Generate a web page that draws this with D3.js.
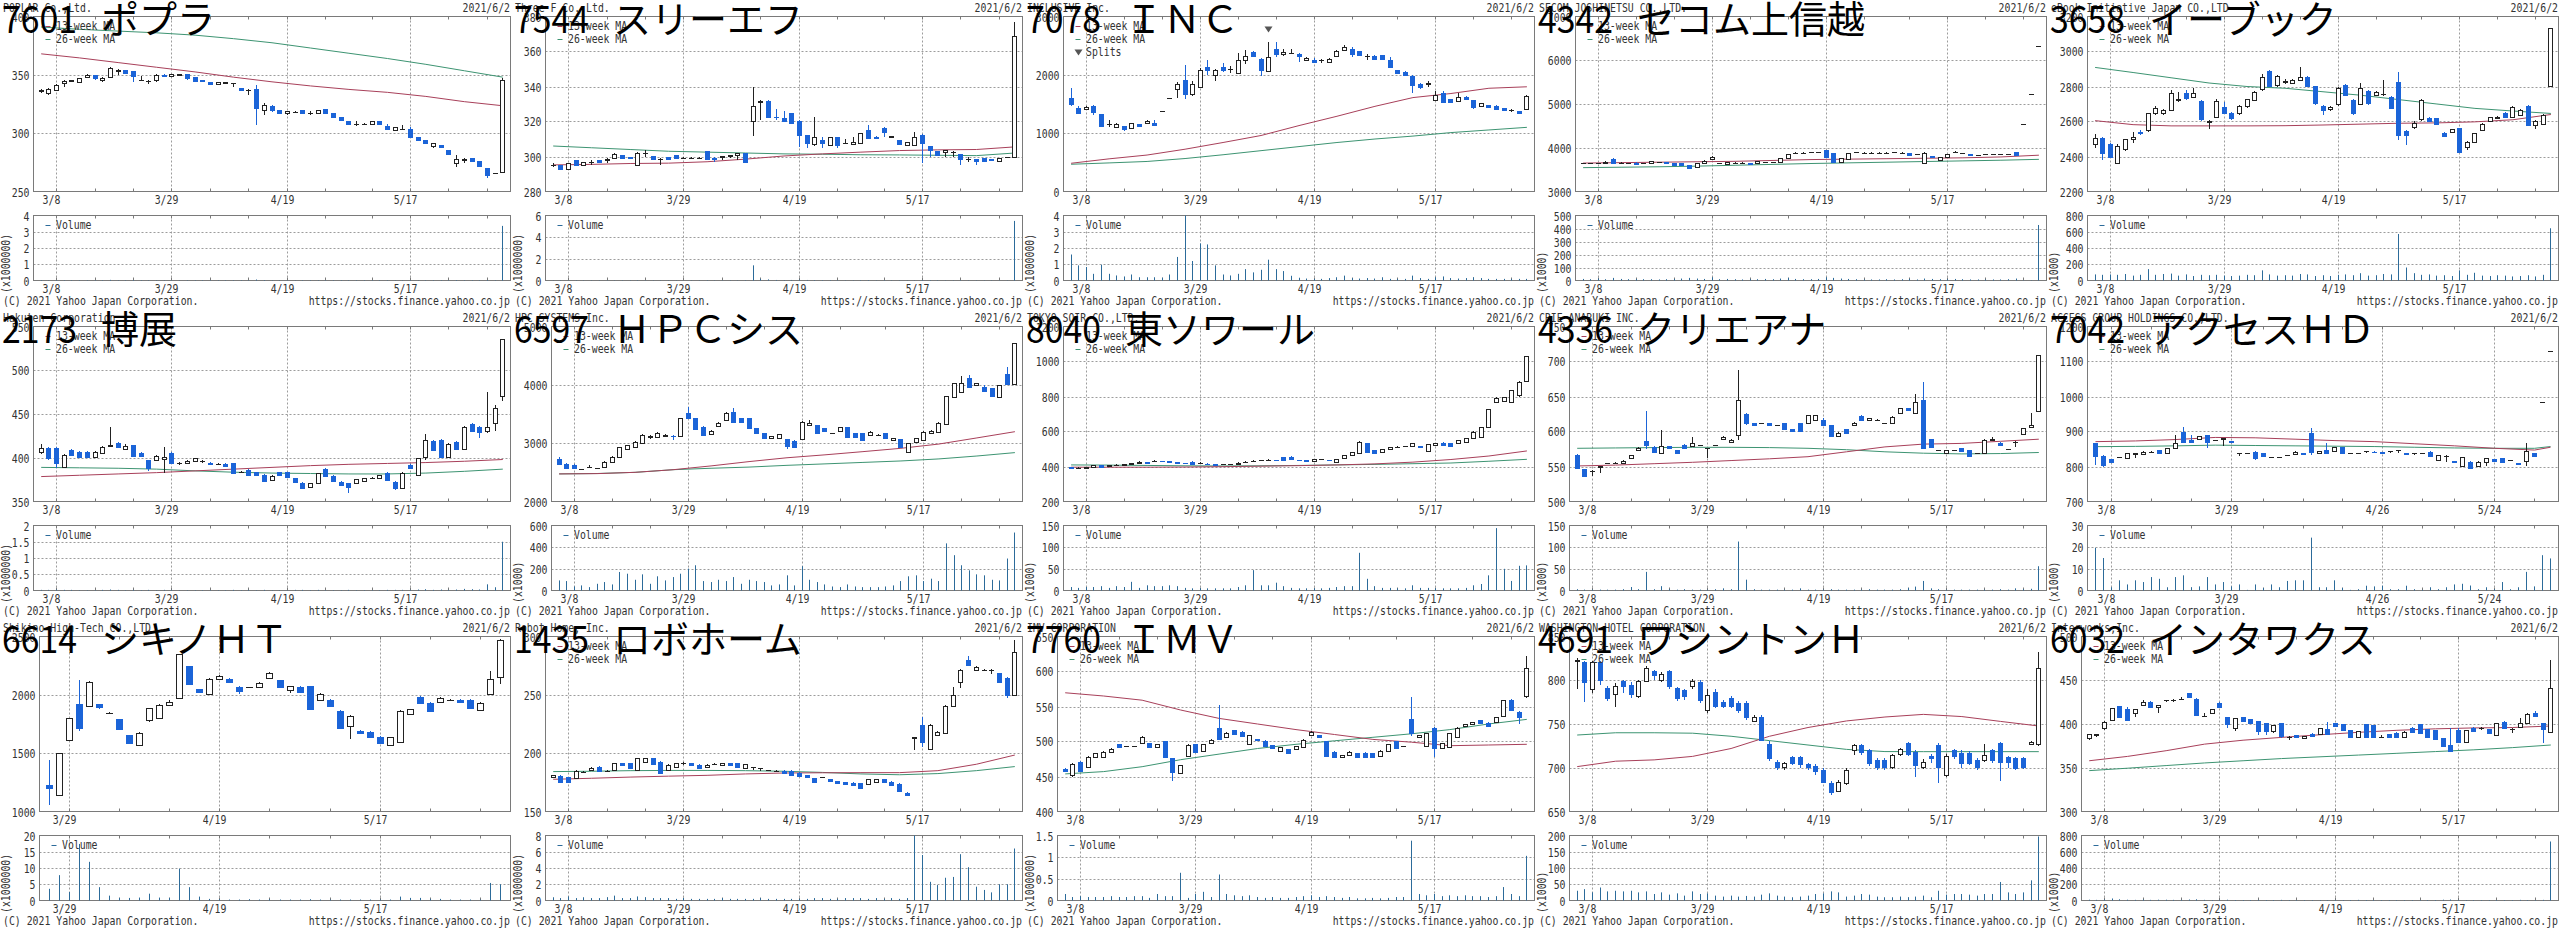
<!DOCTYPE html>
<html><head><meta charset="utf-8">
<script src="https://cdn.jsdelivr.net/npm/d3@7"></script>
<style>body{margin:0;background:#fff}</style>
</head><body><svg id="c" width="2560" height="930"></svg>
<script>
// ---------- shared calendar ----------
const DAYS = ["3/4","3/5","3/8","3/9","3/10","3/11","3/12","3/15","3/16","3/17","3/18","3/19","3/22","3/23","3/24","3/25","3/26","3/29","3/30","3/31","4/1","4/2","4/5","4/6","4/7","4/8","4/9","4/12","4/13","4/14","4/15","4/16","4/19","4/20","4/21","4/22","4/23","4/26","4/27","4/28","4/30","5/6","5/7","5/10","5/11","5/12","5/13","5/14","5/17","5/18","5/19","5/20","5/21","5/24","5/25","5/26","5/27","5/28","5/31","6/1","6/2"];
const DAYS_6614 = DAYS.slice(DAYS.indexOf("3/25"));
const DAYS_7042 = DAYS.filter(d => !["4/1","5/7","5/12"].includes(d));
const LABELS_STD = ["3/8","3/29","4/19","5/17"];
const LABELS_6614 = ["3/29","4/19","5/17"];
const LABELS_7042 = ["3/8","3/29","4/26","5/24"];
const MA_IDX = [0,5,10,15,20,25,30,35,40,45,50,55,60];
const MA_IDX_7042 = [0,5,10,15,20,25,30,35,40,45,50,55,57];

// ---------- data: [open, high, low, close] ----------
const ohlc7601 = [[336,338,334,337],[334,339,333,338],[337,342,336,341],[343,346,340,345],[345,346,344,346],[344,347,343,347],[348,351,347,350],[350,350,346,347],[346,348,344,347],[348,357,348,356],[353,355,350,354],[354,354,351,352],[353,353,344,349],[346,349,345,346],[345,346,342,345],[346,351,344,350],[350,351,348,349],[349,351,348,351],[350,351,349,351],[351,351,346,347],[348,348,345,345],[346,346,345,345],[344,344,342,342],[342,344,341,344],[343,344,342,344],[343,343,340,343],[339,339,337,337],[337,338,333,337],[338,341,307,322],[320,326,316,324],[323,324,318,320],[320,320,317,317],[317,319,316,319],[318,319,317,318],[320,320,317,317],[317,319,316,317],[317,320,317,320],[321,321,317,317],[317,317,314,314],[314,314,311,311],[310,310,308,308],[308,310,306,308],[308,309,307,308],[308,310,308,310],[310,310,308,308],[306,308,304,304],[303,305,303,305],[304,307,303,304],[304,305,296,297],[297,297,294,294],[294,294,292,292],[289,292,287,292],[290,290,288,288],[286,286,282,282],[274,281,271,278],[277,279,274,278],[279,279,276,276],[276,276,272,272],[270,270,262,264],[266,266,265,266],[267,347,266,346]];
const vol7601 = [0.03,0.02,0.03,0.02,0.02,0.02,0.02,0.02,0.02,0.04,0.02,0.02,0.03,0.02,0.02,0.02,0.02,0.02,0.02,0.02,0.02,0.02,0.02,0.02,0.02,0.02,0.02,0.02,0.06,0.03,0.02,0.02,0.02,0.02,0.02,0.02,0.02,0.02,0.02,0.02,0.02,0.02,0.02,0.02,0.02,0.02,0.02,0.02,0.03,0.02,0.02,0.02,0.02,0.02,0.03,0.02,0.02,0.02,0.03,0.02,3.36];
const ma13_7601 = [368,364.5,360.5,356.5,352.5,348,344,340.5,337.5,335,331.5,327,323.5];
const ma26_7601 = [391,389,387.5,386,384,381,377.5,373,368.5,364,359,353.5,348];

const ohlc7544 = [[295,296,294,295],[295,295,293,293],[293,296,293,296],[298,298,295,295],[295,297,295,297],[297,298,295,297],[298,298,297,297],[298,299,296,298.5],[299,302,299,301.5],[301,301,299,299],[300,300,299,299],[295,302.5,295,302],[302,304,300,302],[300.5,300.5,298.4,298.4],[298.6,299,295,298.8],[299.6,299.6,298.6,298.6],[300.7,300.7,299,299],[299.4,299.6,299.2,299.4],[299.4,299.6,299.2,299.4],[299.4,299.6,299.2,299.4],[303,303,298.6,298.6],[299,299.5,297,298.5],[300,300.5,298,300.3],[300.5,301,299,300.7],[301,302,298,302],[302,302,296.7,297],[320,340,312,329],[331,332.5,321,331.5],[332,332.5,322,322.5],[322.5,327,321,322.4],[322,326,320,320.5],[325,325,319,319],[320,321,305.7,312.3],[312.3,312.3,305,308],[307,322.7,306,311.4],[309.4,311,305,308],[306.6,311.4,306.6,311.4],[311.4,311.4,305,306.6],[307.5,310,307,307.6],[307.2,311,307.2,308.5],[308,313.3,308,313.3],[315,318,310.4,310.4],[311.4,311.5,310.4,310.4],[316.5,317,311,313.8],[311,312,311,312],[309.4,309.4,307,307],[306.6,308.5,306.6,308.5],[306.6,314,306.6,311.4],[312.3,313,296,308],[306.2,306.2,300,304],[303,303,300.9,301],[302.8,303.7,300,303.7],[302.8,303,300,302.8],[301.3,301.3,295,298.4],[298.4,300,297,298.4],[298.4,298.4,295,297.3],[299.2,299.2,297.3,297.3],[298.8,298.8,298,298],[297.3,299.2,297.3,299.2],[300,300,300,300],[300,377,300,369]];
const vol7544 = [0.02,0.02,0.02,0.03,0.02,0.02,0.02,0.02,0.02,0.02,0.02,0.03,0.02,0.02,0.02,0.02,0.02,0.02,0.02,0.02,0.03,0.02,0.02,0.02,0.02,0.03,1.4,0.15,0.1,0.05,0.04,0.05,0.08,0.05,0.04,0.03,0.03,0.03,0.02,0.02,0.03,0.04,0.02,0.03,0.02,0.02,0.02,0.03,0.05,0.03,0.03,0.02,0.02,0.03,0.02,0.02,0.02,0.02,0.02,0.02,5.5];
const ma13_7544 = [295.2,295.5,296,296.2,297,298.5,300.3,301.5,302.5,303.4,303.8,304,305.5];
const ma26_7544 = [306,305,304,303,302.5,302,301.5,301.3,301,300.9,300.7,300.5,302];

const ohlc7078 = [[1607,1766,1464,1493],[1424,1470,1330,1350],[1410,1470,1390,1450],[1464,1490,1310,1367],[1322,1330,1110,1122],[1150,1220,1100,1157],[1110,1180,1090,1150],[1122,1130,1040,1080],[1083,1175,1070,1168],[1157,1165,1110,1122],[1168,1230,1160,1208],[1180,1220,1120,1134],[1379,1379,1379,1379],[1600,1610,1590,1607],[1749,1880,1595,1835],[1909,2177,1584,1670],[1670,1900,1640,1835],[1795,2120,1790,2091],[2137,2262,1994,2091],[1994,2100,1892,2080],[2137,2210,2050,2091],[2095,2150,2040,2097],[2023,2370,2010,2251],[2251,2420,2190,2319],[2393,2400,2300,2319],[2279,2290,1977,2080],[2068,2564,2050,2308],[2450,2564,2300,2365],[2353,2450,2320,2393],[2380,2440,2370,2382],[2365,2370,2222,2319],[2251,2310,2230,2290],[2262,2290,2200,2222],[2250,2280,2210,2250],[2222,2290,2200,2280],[2319,2420,2300,2410],[2421,2510,2400,2478],[2450,2480,2300,2365],[2404,2410,2320,2336],[2318,2360,2250,2319],[2319,2340,2250,2279],[2336,2345,2270,2279],[2251,2310,2130,2137],[2080,2090,2020,2034],[2051,2060,1980,1994],[1977,1990,1681,1823],[1840,1860,1750,1783],[1850,1900,1800,1852],[1567,1720,1550,1652],[1692,1720,1510,1538],[1578,1590,1530,1538],[1555,1680,1530,1624],[1624,1630,1570,1578],[1567,1570,1410,1441],[1464,1520,1450,1510],[1481,1490,1430,1441],[1470,1475,1400,1407],[1424,1430,1390,1396],[1396,1420,1360,1396],[1379,1385,1330,1339],[1407,1660,1400,1641]];
const vol7078 = [1.6,0.93,0.83,0.41,0.97,0.41,0.31,0.25,0.37,0.2,0.2,0.2,0.17,0.37,1.45,4.0,1.2,2.28,2.22,0.93,0.37,0.31,0.41,0.7,0.5,0.66,1.28,0.7,0.58,0.29,0.17,0.12,0.1,0.1,0.15,0.2,0.3,0.15,0.12,0.15,0.12,0.2,0.1,0.1,0.1,0.3,0.15,0.1,0.2,0.25,0.15,0.12,0.15,0.2,0.15,0.1,0.1,0.1,0.1,0.1,0.1];
const ma13_7078 = [484,560,625,725,840,960,1130,1290,1460,1610,1680,1770,1795];
const ma26_7078 = [467,490,515,565,630,700,770,840,900,950,1010,1055,1100];
const splits7078 = [26];

const ohlc4342 = [[3646,3660,3630,3646],[3640,3660,3630,3646],[3646,3660,3635,3650],[3646,3690,3640,3684],[3745,3760,3650,3661],[3661,3670,3650,3661],[3646,3660,3635,3646],[3661,3665,3615,3623],[3640,3655,3630,3646],[3646,3700,3640,3692],[3670,3685,3665,3676],[3665,3670,3650,3661],[3646,3650,3595,3600],[3640,3645,3590,3595],[3608,3612,3525,3532],[3555,3650,3550,3646],[3646,3710,3640,3707],[3752,3820,3745,3798],[3640,3655,3630,3646],[3630,3680,3625,3676],[3655,3670,3650,3661],[3661,3665,3655,3661],[3660,3662,3630,3635],[3646,3695,3640,3692],[3668,3675,3660,3668],[3676,3680,3665,3676],[3669,3765,3665,3760],[3760,3865,3755,3859],[3885,3895,3880,3889],[3889,3895,3885,3889],[3904,3912,3895,3904],[3904,3910,3898,3904],[3950,3960,3790,3800],[3874,3880,3680,3684],[3684,3765,3680,3760],[3738,3880,3735,3874],[3897,3900,3890,3897],[3889,3897,3880,3889],[3889,3893,3885,3889],[3889,3893,3885,3889],[3889,3893,3885,3889],[3897,3900,3890,3897],[3889,3893,3885,3889],[3889,3890,3830,3836],[3859,3862,3855,3859],[3650,3892,3640,3880],[3813,3820,3780,3783],[3722,3800,3715,3798],[3798,3862,3795,3859],[3905,3920,3895,3912],[3870,3882,3865,3880],[3859,3862,3820,3830],[3828,3832,3824,3828],[3851,3855,3847,3851],[3851,3855,3847,3851],[3851,3855,3847,3851],[3851,3855,3847,3851],[3897,3900,3825,3828],[4540,4540,4540,4540],[5220,5220,5220,5220],[6320,6320,6320,6320]];
const vol4342 = [12,10,15,10,20,12,10,12,10,10,8,10,12,15,20,15,12,25,10,12,10,8,10,10,12,10,15,20,12,10,10,12,25,20,15,12,10,8,8,8,10,8,10,12,8,15,12,10,10,12,10,8,8,8,8,8,10,15,2,2,427];
const ma13_4342 = [3650,3660,3670,3680,3690,3710,3730,3740,3750,3760,3770,3790,3830];
const ma26_4342 = [3545,3555,3565,3580,3600,3620,3640,3655,3670,3685,3700,3715,3735];

const ohlc3658 = [[2470,2530,2450,2508],[2508,2510,2380,2418],[2472,2480,2390,2400],[2365,2470,2360,2460],[2441,2500,2430,2498],[2500,2540,2480,2513],[2542,2550,2525,2532],[2551,2650,2540,2646],[2646,2690,2640,2675],[2646,2670,2640,2665],[2665,2780,2660,2764],[2725,2770,2710,2730],[2760,2780,2725,2732],[2741,2790,2735,2760],[2719,2725,2605,2612],[2598,2610,2560,2600],[2628,2730,2620,2719],[2685,2710,2645,2650],[2650,2655,2610,2618],[2646,2695,2640,2688],[2688,2730,2680,2726],[2722,2775,2715,2770],[2783,2870,2775,2852],[2888,2895,2795,2802],[2806,2865,2800,2859],[2828,2845,2815,2831],[2821,2845,2815,2840],[2836,2910,2830,2852],[2852,2860,2795,2802],[2802,2805,2695,2703],[2688,2692,2640,2665],[2669,2690,2660,2685],[2700,2800,2690,2794],[2808,2815,2745,2751],[2722,2730,2640,2646],[2700,2820,2695,2794],[2775,2780,2695,2703],[2751,2775,2745,2770],[2755,2836,2745,2756],[2741,2745,2670,2675],[2823,2884,2494,2523],[2546,2550,2466,2523],[2567,2600,2560,2593],[2612,2730,2605,2722],[2618,2625,2595,2600],[2618,2622,2580,2586],[2536,2540,2510,2517],[2540,2560,2535,2555],[2561,2565,2420,2428],[2456,2490,2440,2485],[2485,2535,2480,2532],[2551,2590,2545,2586],[2600,2628,2595,2624],[2618,2632,2612,2628],[2650,2655,2622,2628],[2628,2690,2620,2685],[2640,2670,2635,2665],[2688,2695,2575,2580],[2580,2610,2560,2600],[2586,2645,2580,2637],[2802,3137,2795,3137]];
const vol3658 = [75,70,75,70,80,60,70,140,70,80,85,60,75,55,70,65,70,60,55,60,70,65,125,75,60,65,60,80,75,55,65,55,70,75,65,90,60,65,80,75,572,160,90,70,75,60,65,55,125,70,95,60,55,65,60,50,55,65,50,70,643];
const ma13_3658 = [2605,2582,2575,2575,2575,2576,2580,2585,2590,2592,2598,2610,2640];
const ma26_3658 = [2909,2880,2850,2820,2800,2790,2770,2750,2725,2700,2675,2660,2646];

const ohlc2173 = [[407,416,404,411],[411,412,398,399.4],[411,412,388,394.5],[390,404,389,403],[409,410,402,403],[407,408,400,401],[407,408,400,401],[401,408,400,407],[406,413,405,412],[414,435,412,415],[417,418,411,412],[410,416,409,414],[414.6,415,401,402],[406,407,401,402],[397.5,398,385,388],[398,403,397,402],[399,412,382,401],[406,407,393,394.5],[393.7,395,392,393.7],[393.7,397.5,393,396.7],[396.7,400,396,399.4],[396.5,397.5,394,396.7],[394.5,395,392.5,393],[393,394,392,393],[393,393.5,390,390.7],[393.7,394,381,382.3],[384,385,383,384.2],[386,387,380,380.4],[383.4,384,380,380.4],[380.4,381,373,374],[374.7,380.5,374,379.6],[383.4,384,380,380.4],[383.4,384,378,378.5],[376.6,377,372,372.8],[371.7,372,365,366],[366.3,371.5,365.5,371],[371,383,370,382.3],[386.9,388,379,379.6],[379.6,380,373.5,374],[372.8,373,368.5,369],[371,371.5,359.5,367.1],[371.7,376,371,375.5],[374,377,373.5,376.6],[377.4,378,376.5,377.4],[377.4,380.5,377,380],[383,384,374,374.7],[372.8,373,363,365.2],[366,384,365,383],[392,393,387,388],[380,400,379,399.4],[401,427,398,420],[419.5,420,408,409],[420,421,400,401],[401,417,400,416],[418,419,409,410],[410,436,409,435],[439,440,429,430],[435,436,423,429],[430,475,428,435],[440,460,430,457],[471,536,465,536]];
const vol2173 = [0.02,0.02,0.03,0.02,0.02,0.01,0.01,0.01,0.02,0.03,0.02,0.01,0.02,0.01,0.02,0.01,0.02,0.02,0.01,0.01,0.01,0.01,0.01,0.01,0.01,0.02,0.01,0.02,0.01,0.02,0.01,0.01,0.01,0.02,0.02,0.01,0.02,0.01,0.01,0.01,0.02,0.01,0.01,0.01,0.01,0.02,0.02,0.02,0.02,0.03,0.04,0.02,0.03,0.02,0.03,0.05,0.04,0.03,0.19,0.1,1.5];
const ma13_2173 = [378.5,380,381.5,383,385,387,389,391,392.5,393.5,394.5,396,398];
const ma26_2173 = [389,388.5,388,387,385,383.5,382.5,382,381.5,381.5,382.5,384.5,387];

const ohlc6597 = [[2724,2760,2630,2644],[2644,2660,2560,2570],[2627,2640,2560,2570],[2553,2560,2545,2553],[2590,2620,2580,2598],[2570,2580,2560,2570],[2598,2690,2590,2684],[2684,2775,2680,2770],[2770,2935,2765,2929],[2895,2975,2890,2969],[2940,3030,2935,3026],[3000,3150,2995,3140],[3110,3145,3080,3115],[3111,3190,3100,3180],[3120,3150,3110,3140],[3125,3140,3050,3123],[3123,3430,3115,3425],[3510,3624,3420,3425],[3425,3430,3230,3237],[3282,3290,3135,3140],[3157,3220,3150,3214],[3294,3355,3290,3350],[3396,3530,3390,3522],[3539,3600,3360,3368],[3425,3430,3360,3368],[3425,3430,3250,3254],[3254,3260,3175,3180],[3168,3170,3080,3083],[3083,3130,3080,3123],[3083,3160,3080,3157],[3066,3070,2900,2952],[3043,3050,2935,2940],[3066,3380,3060,3368],[3311,3400,3305,3350],[3311,3315,3160,3168],[3254,3260,3210,3214],[3168,3175,3160,3168],[3200,3280,3195,3271],[3271,3275,3095,3100],[3168,3175,3095,3100],[3168,3175,3050,3054],[3140,3200,3135,3197],[3140,3150,3135,3140],[3168,3175,3080,3083],[3054,3090,3050,3083],[3066,3070,2935,2940],[2855,3005,2850,3000],[3026,3090,3020,3083],[3054,3200,3050,3197],[3180,3220,3175,3214],[3197,3355,3190,3350],[3328,3810,3320,3807],[3784,4030,3780,4023],[3881,4150,3875,4035],[4109,4170,3960,3966],[3995,4030,3990,4023],[3966,3990,3890,3898],[3938,3945,3800,3807],[3784,4000,3780,3995],[4194,4308,4005,4012],[4012,4718,4005,4718]];
const vol6597 = [93,87,37,47,31,62,78,56,171,155,99,149,62,131,93,124,155,202,233,87,78,99,87,124,62,99,87,78,47,56,140,47,224,99,78,56,37,31,56,37,31,31,31,37,47,87,131,140,87,109,87,435,326,233,186,149,140,99,93,295,535];
const ma13_6597 = [2473,2478,2500,2545,2610,2684,2750,2800,2855,2912,2985,3090,3197];
const ma26_6597 = [2473,2480,2500,2545,2570,2590,2620,2645,2670,2695,2730,2780,2838];

const ohlc8040 = [[398,400,388,393],[390,396,386,393],[393,400,392,396],[396,408,395,407],[409,410,399,400],[405,409,403,407],[409,413,408,411],[407,416,406,415],[416,420,414,418.5],[418,430,417,428],[424,426,420,422],[430,436,428,434],[432,434,428,430],[430,431,426,428],[424,425,420,422],[420,421,416,418.5],[428,429,414,415],[420,424,419,422],[417,418,413,415],[413,414,409,411],[413,417,412,415],[415,417,413,415],[415,423,414,422],[425,430,424,428],[432,436,430,434],[435,440,434,437.5],[437,441,436,439],[439,440,435,437.5],[452.7,454,436,437.5],[456.5,458,440,441],[439,440,436,437.5],[436,437,432,434],[434,442,433,441],[441,445,440,443],[438,439,436,437.5],[428,442,427,441],[447,467,446,466],[466,482,465,481],[475,545,474,542],[532,536,484,485],[494.5,496,478,479],[485,499,484,498],[498,514,497,513.5],[513.5,515,512,513.5],[517,518,515,517],[517,533,516,532.5],[517,518,508,510],[488,530,486,528],[523,537,522,536],[536,538,522,523],[532,534,516,517],[532,552,531,551.5],[542,562,541,561],[561,600,560,599],[570,628,569,627.5],[624,727,622,726],[770,795,768,789],[776,796,770,795],[770,838,765,836.5],[808,886,800,884],[890,1031,885,1030]];
const vol8040 = [8,6,8,8,10,6,10,8,20,6,12,10,10,12,10,6,5,5,5,5,5,5,8,12,47,12,12,18,10,6,5,5,5,5,6,8,10,10,87,27,10,6,6,5,5,12,6,6,5,5,5,5,6,12,15,35,144,50,22,57,58];
const ma13_8040 = [396,396,396,397,399,402,405,409,415,425,440,460,489];
const ma26_8040 = [409,408,406,404,403,404,406,409,412,416,420,430,441];

const ohlc4336 = [[566,568,546,547.5],[546,547,535,536],[544,545,536,544],[550,551,540,550.5],[554.6,555,554,554.6],[555.6,556,555,555.6],[555.6,559,555,558.4],[561.8,567,561,566.5],[573.6,578,573,577],[586,630,575,581],[578,579,570,571],[570,602,569,579],[579,580,575,576],[573.6,574,569,570],[580.8,582,575,576],[579,592,578,584],[580.8,581,580,580.8],[576,576.5,561.8,576],[580.8,581,580,580.8],[590,593,589,592.6],[585.5,590,584,588],[595,688,588,645],[625,626,610,611.6],[611.6,612,608,609],[611.6,612,611,611.6],[611.6,612,608,609],[609,609.5,608.5,609],[611.6,612,602,603],[603,604,600,601],[611.6,612,600,601],[611.6,624,611,623.5],[616,624,615,623.5],[617,620,608,609],[609,610,593,593.6],[593.6,599,593,598],[603,604,597,598],[609,613,608,612.6],[622,623,616,617],[616,619.5,615,618.8],[617,617.5,616.5,617],[611.6,612,611,611.6],[611.6,622,611,621],[626,634,625,633],[633,634,630,630.6],[626,654,625,642.5],[645,671,575,576],[588.8,589.5,577,577.4],[573.6,574,573,573.6],[569,574,568,573.6],[573.6,574,573,573.6],[576,576.5,572,572.7],[573.6,574,564,565],[569,569.5,568.5,569],[570,589,569,588],[588,592,587,590],[584,585,580,580.8],[574.6,575,574,574.6],[585.5,586,578,585.5],[596.4,605,596,604.5],[606,626,605,609],[630,709,629,709]];
const vol4336 = [3,2,2,2,2,2,3,8,3,43,3,10,3,2,3,2,2,2,3,5,3,113,25,3,2,2,2,2,2,5,2,2,2,3,2,2,2,2,3,2,2,2,3,6,9,22,5,3,2,2,2,2,2,2,2,3,2,5,3,4,56];
const ma13_4336 = [550.8,552,554,556,558.5,561,564,571,578,582,583,586,589];
const ma26_4336 = [576,576.5,577,577.4,577.4,577,576,574,571,569,568,568.5,570];

const ohlc7042 = [[866,868,804,831],[831,832,798,804],[821,822,813,814],[826,828,824,826],[823.5,838,823,837.7],[837,838,823,837.7],[835.8,843,835,842.5],[842.5,843,842,842.5],[847,848,839,839.6],[839.6,852,839,852],[852,890,851,866],[899,914,870,871],[875.7,890,870,871],[877.6,887.5,877,887],[890,891,852,871],[875.7,876,875,875.7],[880,881,860,880.4],[872.8,873.5,868,869],[839.6,840,830,839.6],[839.6,840,839,839.6],[842.5,843,818,823.5],[839.6,840,829,830],[828,828.5,827.5,828],[828,828.5,827.5,828],[833,833.5,832.5,833],[835.8,843,835,842.5],[839.6,840,834,835],[895,909,833,842.5],[839.6,845.5,839,845],[847,866,839,839.6],[845,855,844.5,854.8],[854.8,855,837,837.7],[837.7,838,837.5,837.7],[837.7,838,837.5,837.7],[845,845.5,838,845],[842.5,843,841,841.5],[841.5,842,837,837.7],[845,845.5,838,845],[847,847.5,840,847],[837.7,838,834,835],[839.6,840,833,839.6],[839.6,840,839,839.6],[842.5,843,830,831],[818.7,833.5,818,833],[831,832,812,831],[816.8,817,811,812],[801.6,826.5,801,826.3],[814,814.5,794,795],[801.6,814.5,801,814],[814,823.5,801.6,823.5],[821.6,822,815,816],[823.5,824,811,812],[818.7,819,818.5,818.7],[809,809.5,805,806.4],[816.8,866,801.6,845],[837.7,838,830,831],[983,983,983,983],[1131,1131,1131,1131]];
const vol7042 = [19.7,15,1.5,4.7,2.8,4.7,3.9,6.2,5.4,1.5,6.2,7,1.5,1.9,6.2,2.8,3.9,1.9,2.8,0.3,2.8,1.2,2.8,1.5,4.4,4.7,4.7,24.4,1.5,1.5,4.7,1.2,0.3,0.6,2.2,1.9,2.2,0.6,0.6,2.2,0.6,0.3,1.5,0.6,1.5,2.8,3.1,2.3,0.6,1.5,0.6,3.9,0.6,1.5,8.6,1.9,16.3,14.8];
const ma13_7042 = [871,873,877,883,882,878,874,871,865,859,852,847,855];
const ma26_7042 = [856.7,857.5,859,861,860,859,858,857,855,853,852,852,857];

const ohlc6614 = [[1228,1440,1057,1200],[1142,1500,1130,1500],[1613,1800,1600,1798],[1920,2131,1690,1712],[1903,2115,1900,2111],[1920,1925,1880,1892],[1846,1850,1835,1846],[1789,1795,1700,1704],[1655,1660,1580,1590],[1570,1680,1565,1670],[1783,1890,1770,1883],[1798,1920,1790,1912],[1912,1955,1905,1940],[1977,2350,1970,2348],[2245,2250,2090,2097],[2046,2050,2020,2026],[2006,2145,2000,2140],[2140,2170,2135,2160],[2140,2145,2105,2111],[2068,2075,2010,2034],[2063,2068,2058,2063],[2068,2110,2060,2103],[2148,2195,2140,2188],[2125,2130,2055,2063],[2040,2080,2020,2074],[2068,2072,2020,2026],[2074,2080,1870,1875],[1954,2012,1950,2006],[1960,1965,1895,1903],[1863,1870,1705,1712],[1732,1825,1620,1818],[1692,1700,1670,1675],[1684,1690,1635,1641],[1641,1645,1580,1590],[1570,1640,1560,1635],[1598,1870,1595,1863],[1835,1880,1830,1875],[1983,1990,1925,1932],[1932,1940,1860,1863],[1940,1985,1935,1977],[1960,1965,1955,1960],[1960,1962,1935,1940],[1960,1965,1880,1883],[1869,1935,1865,1932],[2006,2200,2000,2140],[2154,2480,2090,2467]];
const vol6614 = [3.6,7.8,2.6,17.4,11.9,4.1,1.5,0.8,0.8,0.9,2.1,0.9,0.8,9.8,4.1,1.2,0.5,0.4,0.3,0.3,0.4,0.3,0.4,0.3,0.3,0.3,0.4,0.3,0.3,0.3,0.3,0.3,0.3,0.3,0.3,1.2,0.8,0.8,0.5,0.5,0.3,0.3,0.3,0.3,5.4,5.0];

const ohlc1435 = [[179.3,181.5,178.5,181.3],[180.5,181,174.5,175.6],[179.3,180,175,175.6],[178.5,185.5,178,185],[184.2,184.5,184,184.2],[185.6,188,185,187.6],[188.5,189,184.5,185],[185,185.5,184.5,185],[185.6,191.5,185,191.3],[191.3,192,189.5,190],[191.3,192,186.5,187],[185.6,196,185,195.6],[192.7,196,192,195.6],[195.6,196,190,190.7],[192.7,193,182,182.8],[185.6,190.5,185,189.9],[188.5,192,188,191.3],[191.9,192.5,190,191.9],[191.3,191.8,189.5,190.2],[190.2,190.5,187,187.5],[188,190.5,187.5,190.2],[190.8,191.5,190.3,190.8],[189.5,191.5,189,191.3],[191.3,191.8,189,189.5],[191.3,191.5,187,187.9],[187,191,186.5,190.7],[187.9,188.2,186,187.9],[187,187.3,185,187],[185.6,186,185.2,185.6],[185,185.3,184.7,185],[185,185.3,183,183.3],[185,185.3,181,181.3],[183.3,183.5,180,180.5],[181.3,181.5,179,179.3],[178.5,179,175,175.6],[179.3,179.6,179,179.3],[177.6,178,175.5,176],[176,176.3,174,174.2],[175.2,175.5,173,173.3],[174.8,175,172.5,172.8],[174.2,174.5,169.5,170],[173.6,178,173,177.6],[175.6,177.8,175.3,177.6],[177.6,178,174.8,175.2],[175.6,176,172.5,173],[173.6,174,167.5,168],[166.2,166.5,163.8,164.2],[213,214,203,214],[224,231,205,209.8],[203.3,225,203,224],[215.5,219,215,218.4],[217.5,241,217,240.3],[240.3,256.8,240,249.7],[261,272,256,271.7],[280,283,275,275.4],[271,274.5,270.5,273.9],[271.5,272,270,271.7],[271.5,272,268,271.7],[268.8,269,260.5,261.1],[264.8,265,247.5,249.7],[249.7,297,249,286.8]];
const vol1435 = [0.4,0.3,0.5,0.3,0.4,0.3,0.3,0.4,0.6,0.3,0.3,0.5,0.4,0.3,0.3,0.3,0.2,0.3,0.2,0.2,0.2,0.2,0.3,0.2,0.2,0.2,0.2,0.3,0.2,0.2,0.2,0.2,0.2,0.2,0.3,0.3,0.2,0.2,0.3,0.3,0.3,0.2,0.3,0.2,0.3,0.2,0.3,8.0,5.6,2.3,1.9,2.8,2.9,5.7,4.1,1.7,1.3,1.0,2.0,2.0,6.4];
const ma13_1435 = [177.6,178.5,179.5,180.3,181,182.2,183,183.2,183.3,183.3,185,190.5,198.4];
const ma26_1435 = [184.2,184.5,185,185.2,185.2,185,184.5,183.5,182.2,181.5,182.5,185,188.5];

const ohlc7760 = [[460.3,462,457,458.4],[452,469,450,468],[471,472,457,458],[464,480,463,478],[478,484,477,483],[477.4,486,476,485.5],[485.5,491,485,490],[496.4,497,491,491.7],[493.6,494,493,493.6],[493.6,494,493,493.6],[497.4,508,497,506],[497.4,498,491,491.7],[492,497,491,496],[500,501,477,478],[476,477,443.7,457],[455.6,467,455,466.5],[479,496,478,495],[496.4,497,485,485.5],[487,497,486,496.4],[497.4,503,497,502],[518.8,552,502,503],[507,513,506,512.6],[516.4,517,510,510.7],[514,515,507,507.8],[496.4,510,496,509],[503,503.5,501,501.5],[501,501.5,493,493.6],[495,495.5,490,490.3],[487,492,486.5,491.7],[488.8,489,482,483],[488.8,494,488.5,493.6],[492.6,503,492,502],[509,515,508,514],[509,509.5,505.5,506],[500,501,479,479.3],[485.5,486,477.5,478],[477.4,481,477,480.8],[480.8,486,480.5,485.5],[483,483.5,477,477.4],[484,484.5,477.5,478],[483,483.5,477,477.4],[479.3,487.5,479,487],[487,497,486.5,496.4],[500,500.5,490,490.3],[493.6,494,493.2,493.6],[531.6,563,508,511.6],[506,509.5,505.5,509],[493.6,512,493,511.6],[520,521,478.4,490.3],[490.3,497.5,490,497.4],[492.6,512,492,511.6],[507,520.5,506.5,520],[522,525.5,521.5,525],[525,528.5,524.5,528],[530.6,531,525.5,526],[527,527.5,521.5,522],[528,535.5,527.5,535.4],[536.3,559.5,536,559],[560,561,544,545],[542.5,543,525,535.4],[564.8,621.8,562,605.7]];
const vol7760 = [0.15,0.08,0.1,0.08,0.08,0.08,0.1,0.08,0.08,0.1,0.1,0.06,0.15,0.1,0.1,0.64,0.06,0.15,0.2,0.08,0.6,0.15,0.12,0.1,0.12,0.08,0.06,0.08,0.06,0.06,0.08,0.1,0.12,0.08,0.1,0.08,0.06,0.08,0.05,0.05,0.06,0.05,0.06,0.08,0.08,1.38,0.15,0.12,0.15,0.1,0.12,0.1,0.12,0.1,0.1,0.08,0.1,0.31,0.15,0.1,1.03];
const ma13_7760 = [569.6,565,559,545,533,525,517,510,503,499,494,495,496];
const ma26_7760 = [453.7,457,464,474,482,490,496,501,506,511,517,525,531.6];

const ohlc4691 = [[822,825,790,823],[821,822,775,798],[790,822,785,821],[821,822,795,800],[791,793,776,780],[784,797,770,793],[799,800,785,793],[795,798,780,784],[782,800,780,799],[799,816,798,814],[810,812,800,806],[800,809,798,807],[810,812,790,794],[791,792,776,780],[789,790,778,782],[794,802,790,799],[798,800,774,777],[766,790,762,783],[787,790,768,771],[775,778,768,771],[780,782,768,771],[774,776,762,766],[774,776,755,758],[754,760,752,758],[758,760,730,732],[727,730,708,711],[707,709,698,701],[701,707,698,705],[712,714,703,705],[712,714,700,704],[704,706,698,701],[702,704,692,696],[698,700,682,684],[683,685,669,672],[674,686,672,684],[682,700,680,698],[720,727,715,726],[726,727,715,718],[720,722,702,706],[709,711,698,701],[709,711,697,701],[701,716,699,715],[716,723,714,721],[728,729,713,716],[718,720,690,703],[701,710,699,707],[713,716,705,711],[726,728,682,701],[692,716,690,713],[720,722,710,713],[717,720,700,705],[717,719,703,705],[709,711,698,701],[709,727,707,715],[720,722,705,709],[728,729,685,707],[712,714,700,707],[711,712,697,700],[711,712,699,701],[727,730,726,729],[727,832,725,814]];
const vol4691 = [30,35,25,40,28,30,28,30,25,28,20,25,18,22,15,28,20,22,15,12,15,12,14,12,18,22,15,12,10,12,15,20,22,28,25,12,15,20,18,12,10,10,12,10,12,15,10,30,18,20,20,18,15,20,20,57,25,20,25,62,197];
const ma13_4691 = [701.3,707.5,709,713,722,736,746,753.5,758,761,758.5,753,747.7];
const ma26_4691 = [737.4,740,740,739.5,736,731,726,721,718.5,718.4,718.4,718.4,718.4];

const ohlc6032 = [[383.6,389,382,388.5],[388,389,385,388.5],[396,403,393,402.6],[405,418,404,417.8],[420.5,421,407,408.3],[416.7,419,404,405],[413,417,408,416.7],[421.6,428,421,425],[425.4,426,418.5,419],[419,422,412,421.6],[427,428,425,427.3],[427.5,429,425.5,428],[429,431,427,429],[435.7,436,430,430.3],[429,429.5,410,410.2],[409,413,408.5,409],[413,417,412.5,416.7],[424.3,425,418,419],[407.5,408,396,400],[395,407,392,406.4],[408.3,408.5,403,403.7],[405.3,405.5,400,400.7],[403.7,404,388,392.3],[400.7,401,388,392.3],[392.3,399,390,398.8],[400.7,401,384,386.3],[384.7,386,382,384.7],[387.4,388,384.2,384.7],[383.6,386.5,383,386.3],[388.5,390,386,386.3],[388.5,395.5,388,395],[393.9,402,388,388.5],[400.7,401,397.5,397.7],[400,400.5,392.5,393],[393,393.5,385,385.5],[385.5,392.5,385,392.3],[400,400.5,385,385.5],[398.8,399,384,384.7],[385.5,388,385,385.5],[388.5,389,384.5,384.7],[390,390.5,384.5,384.7],[385.5,391.5,385,391.2],[396,396.5,390,391.2],[400,400.5,389,390],[393.9,394,385,385.5],[393,393.5,382,382.5],[383.6,384,374.5,374.9],[376,395,369,369.5],[393,395,379,379.8],[379.8,393.5,379.5,393],[396,396.5,392,392.3],[395.8,396.5,393,396],[393.9,394,389.5,390],[387.4,401,387,400.7],[402.6,403,395.5,396],[393.9,396,390,393.9],[396.9,407,396.5,400.7],[401.5,412,401,411.3],[412,415,408.5,409],[400.7,401,378.7,393.9],[391.2,472.9,391,440.6]];
const vol6032 = [10,8,12,25,15,10,8,12,8,10,10,8,8,12,15,8,6,8,10,6,6,6,8,6,6,8,5,5,5,5,6,6,8,6,6,8,6,6,5,5,5,5,5,5,6,6,10,12,8,6,5,5,5,6,5,5,8,6,5,8,726];
const ma13_6032 = [358,363,369.5,377,381.5,384.7,387.7,390.5,392.8,394.5,395.5,396,397.7];
const ma26_6032 = [346.7,349.5,352.5,355.5,358,360.5,362.5,364.5,366.5,368.5,370.5,373,376];

// ---------- panels ----------
const PANELS = [
 {code:"7601",name:"ポプラ",en:"POPLAR Co.,Ltd.",ohlc:ohlc7601,vol:vol7601,ma13:ma13_7601,ma26:ma26_7601,days:DAYS,labels:LABELS_STD,maIdx:MA_IDX,pDom:[250,400],pStep:50,vDom:[0,4],vStep:1,unit:"(x1000000)"},
 {code:"7544",name:"スリーエフ",en:"Three F Co.,Ltd.",ohlc:ohlc7544,vol:vol7544,ma13:ma13_7544,ma26:ma26_7544,days:DAYS,labels:LABELS_STD,maIdx:MA_IDX,pDom:[280,380],pStep:20,vDom:[0,6],vStep:2,unit:"(x1000000)"},
 {code:"7078",name:"ＩＮＣ",en:"INCLUSIVE Inc.",ohlc:ohlc7078,vol:vol7078,ma13:ma13_7078,ma26:ma26_7078,days:DAYS,labels:LABELS_STD,maIdx:MA_IDX,pDom:[0,3000],pStep:1000,vDom:[0,4],vStep:1,unit:"(x1000000)",splits:splits7078},
 {code:"4342",name:"セコム上信越",en:"SECOM JOSHINETSU CO.,LTD.",ohlc:ohlc4342,vol:vol4342,ma13:ma13_4342,ma26:ma26_4342,days:DAYS,labels:LABELS_STD,maIdx:MA_IDX,pDom:[3000,7000],pStep:1000,vDom:[0,500],vStep:100,unit:"(x1000)"},
 {code:"3658",name:"イーブック",en:"eBook Initiative Japan CO.,LTD",ohlc:ohlc3658,vol:vol3658,ma13:ma13_3658,ma26:ma26_3658,days:DAYS,labels:LABELS_STD,maIdx:MA_IDX,pDom:[2200,3200],pStep:200,vDom:[0,800],vStep:200,unit:"(x1000)"},
 {code:"2173",name:"博展",en:"Hakuten Corporation",ohlc:ohlc2173,vol:vol2173,ma13:ma13_2173,ma26:ma26_2173,days:DAYS,labels:LABELS_STD,maIdx:MA_IDX,pDom:[350,550],pStep:50,vDom:[0,2],vStep:0.5,unit:"(x1000000)"},
 {code:"6597",name:"ＨＰＣシス",en:"HPC SYSTEMS Inc.",ohlc:ohlc6597,vol:vol6597,ma13:ma13_6597,ma26:ma26_6597,days:DAYS,labels:LABELS_STD,maIdx:MA_IDX,pDom:[2000,5000],pStep:1000,vDom:[0,600],vStep:200,unit:"(x1000)"},
 {code:"8040",name:"東ソワール",en:"TOKYO SOIR CO.,LTD.",ohlc:ohlc8040,vol:vol8040,ma13:ma13_8040,ma26:ma26_8040,days:DAYS,labels:LABELS_STD,maIdx:MA_IDX,pDom:[200,1200],pStep:200,vDom:[0,150],vStep:50,unit:"(x1000)"},
 {code:"4336",name:"クリエアナ",en:"CRIE ANABUKI INC.",ohlc:ohlc4336,vol:vol4336,ma13:ma13_4336,ma26:ma26_4336,days:DAYS,labels:LABELS_STD,maIdx:MA_IDX,pDom:[500,750],pStep:50,vDom:[0,150],vStep:50,unit:"(x1000)"},
 {code:"7042",name:"アクセスＨＤ",en:"ACCESS GROUP HOLDINGS CO.,LTD.",ohlc:ohlc7042,vol:vol7042,ma13:ma13_7042,ma26:ma26_7042,days:DAYS_7042,labels:LABELS_7042,maIdx:MA_IDX_7042,pDom:[700,1200],pStep:100,vDom:[0,30],vStep:10,unit:"(x1000)"},
 {code:"6614",name:"シキノＨＴ",en:"Shikino High-Tech CO.,LTD",ohlc:ohlc6614,vol:vol6614,ma13:null,ma26:null,days:DAYS_6614,labels:LABELS_6614,maIdx:null,pDom:[1000,2500],pStep:500,vDom:[0,20],vStep:5,unit:"(x1000000)"},
 {code:"1435",name:"ロボホーム",en:"Robot Home, Inc.",ohlc:ohlc1435,vol:vol1435,ma13:ma13_1435,ma26:ma26_1435,days:DAYS,labels:LABELS_STD,maIdx:MA_IDX,pDom:[150,300],pStep:50,vDom:[0,8],vStep:2,unit:"(x1000000)"},
 {code:"7760",name:"ＩＭＶ",en:"IMV CORPORATION",ohlc:ohlc7760,vol:vol7760,ma13:ma13_7760,ma26:ma26_7760,days:DAYS,labels:LABELS_STD,maIdx:MA_IDX,pDom:[400,650],pStep:50,vDom:[0,1.5],vStep:0.5,unit:"(x1000000)"},
 {code:"4691",name:"ワシントンＨ",en:"WASHINGTON HOTEL CORPORATION",ohlc:ohlc4691,vol:vol4691,ma13:ma13_4691,ma26:ma26_4691,days:DAYS,labels:LABELS_STD,maIdx:MA_IDX,pDom:[650,850],pStep:50,vDom:[0,200],vStep:50,unit:"(x1000)"},
 {code:"6032",name:"インタワクス",en:"Interworks,Inc.",ohlc:ohlc6032,vol:vol6032,ma13:ma13_6032,ma26:ma26_6032,days:DAYS,labels:LABELS_STD,maIdx:MA_IDX,pDom:[300,500],pStep:50,vDom:[0,800],vStep:200,unit:"(x1000)"}
];

// ---------- drawing ----------
const C = {blue:'#1b64d8', up:'#222', vol:'#2c6b9a', ma13:'#a8405a', ma26:'#3d9472', grid:'#9c9c9c', frame:'#7a7a7a', text:'#333', split:'#555'};
const svg = d3.select('#c');
svg.append('rect').attr('width',2560).attr('height',930).attr('fill','#fff');

function mono(g, x, y, s, anchor){
  return g.append('text').attr('transform',`translate(${x},${y}) scale(0.82,1)`)
    .attr('text-anchor',anchor||'start').attr('font-family','"DejaVu Sans Mono", monospace')
    .attr('font-size',12).attr('fill',C.text).text(s);
}
const fmt = v => String(+v.toFixed(2));
function isMonday(d){ const [m,dd]=d.split('/').map(Number); return new Date(2021,m-1,dd).getDay()===1; }

function draw(p, col, row){
  const g = svg.append('g').attr('transform',`translate(${col*512},${row*310})`);
  const n = p.ohlc.length;
  const pTicks = d3.range(p.pDom[0], p.pDom[1]+1e-9, p.pStep);
  const vTicks = d3.range(p.vDom[0], p.vDom[1]+1e-9, p.vStep);
  const chars = Math.max(...pTicks.map(v=>fmt(v).length), ...vTicks.map(v=>fmt(v).length));
  const L = chars>=4 ? 39.5 : 33.5, R = 510.5;
  const T = 16.5, B = 191.5, VT = 215.5, VB = 280.5;
  const x = d3.scaleLinear().domain([-1,n]).range([L,R]);
  const y = d3.scaleLinear().domain(p.pDom).range([B,T]);
  const yv = d3.scaleLinear().domain(p.vDom).range([VB,VT]);
  const xc = i => Math.floor(x(i)) + 0.5;
  const step = (R-L)/(n+1);
  const half = step >= 9.5 ? 3 : 2;

  // grids
  const majors = p.labels.map(l => p.days.indexOf(l)).filter(i=>i>=0);
  const gg = g.append('g').attr('stroke',C.grid).attr('stroke-dasharray','2,2').attr('stroke-width',1);
  pTicks.slice(1,-1).forEach(v=>{ const yy=Math.round(y(v))+0.5; gg.append('line').attr('x1',L).attr('x2',R).attr('y1',yy).attr('y2',yy); });
  vTicks.slice(1,-1).forEach(v=>{ const yy=Math.round(yv(v))+0.5; gg.append('line').attr('x1',L).attr('x2',R).attr('y1',yy).attr('y2',yy); });
  majors.forEach(i=>{ gg.append('line').attr('x1',xc(i)).attr('x2',xc(i)).attr('y1',T).attr('y2',B);
                      gg.append('line').attr('x1',xc(i)).attr('x2',xc(i)).attr('y1',VT).attr('y2',VB); });
  // minor weekly ticks
  const tg = g.append('g').attr('stroke',C.frame);
  p.days.forEach((d,i)=>{ if(!isMonday(d)) return; const xx=xc(i);
    [[T,T+3],[B-3,B],[VT,VT+3],[VB-3,VB]].forEach(([a,b])=>tg.append('line').attr('x1',xx).attr('x2',xx).attr('y1',a).attr('y2',b)); });
  // frames
  g.append('rect').attr('x',L).attr('y',T).attr('width',R-L).attr('height',B-T).attr('fill','none').attr('stroke',C.frame);
  g.append('rect').attr('x',L).attr('y',VT).attr('width',R-L).attr('height',VB-VT).attr('fill','none').attr('stroke',C.frame);

  // moving averages
  if(p.ma13){
    const line = d3.line().x(d=>x(d[0])).y(d=>y(d[1]));
    g.append('path').attr('d', line(p.maIdx.map((i,k)=>[i,p.ma26[k]]))).attr('fill','none').attr('stroke',C.ma26).attr('stroke-width',1);
    g.append('path').attr('d', line(p.maIdx.map((i,k)=>[i,p.ma13[k]]))).attr('fill','none').attr('stroke',C.ma13).attr('stroke-width',1);
  }

  // candles
  const cg = g.append('g');
  p.ohlc.forEach((c,i)=>{
    const [o,h,l,cl] = c; const xx = xc(i);
    const down = cl < o; const col = down ? C.blue : C.up;
    const yh = Math.round(y(Math.max(h,o,cl))), yl = Math.round(y(Math.min(l,o,cl)));
    if (yl - yh >= 1) cg.append('line').attr('x1',xx).attr('x2',xx).attr('y1',yh).attr('y2',yl).attr('stroke',col);
    const yt = Math.round(y(Math.max(o,cl))), yb = Math.round(y(Math.min(o,cl)));
    if (yb - yt < 1) {
      cg.append('line').attr('x1',xx-half-0.5).attr('x2',xx+half+0.5).attr('y1',yt+0.5).attr('y2',yt+0.5).attr('stroke',col);
    } else {
      cg.append('rect').attr('x',xx-half).attr('y',yt+0.5).attr('width',2*half).attr('height',yb-yt)
        .attr('fill', down ? C.blue : '#fff').attr('stroke', col);
    }
  });
  // split markers
  if(p.splits) p.splits.forEach(i=>{ const xx=xc(i);
    g.append('path').attr('d',`M${xx-4},26.5L${xx+4},26.5L${xx},32.5Z`).attr('fill',C.split); });

  // volume
  const vg = g.append('g').attr('stroke',C.vol);
  p.vol.forEach((v,i)=>{ const xx=xc(i); vg.append('line').attr('x1',xx).attr('x2',xx).attr('y1',VB).attr('y2',yv(v)); });

  // axis labels
  pTicks.forEach(v=>mono(g, L-4, Math.round(y(v))+4.5, fmt(v), 'end'));
  vTicks.forEach(v=>mono(g, L-4, Math.round(yv(v))+4.5, fmt(v), 'end'));
  majors.forEach(i=>{ mono(g, xc(i)-5, 204, p.days[i], 'middle'); mono(g, xc(i)-5, 292.5, p.days[i], 'middle'); });
  g.append('text').attr('transform','translate(10,293) rotate(-90) scale(0.82,1)')
    .attr('font-family','"DejaVu Sans Mono", monospace').attr('font-size',12).attr('fill',C.text).text(p.unit);

  // legends
  if(p.ma13){
    g.append('line').attr('x1',L+12).attr('x2',L+17).attr('y1',26.5).attr('y2',26.5).attr('stroke',C.ma13);
    mono(g, L+22.5, 29.5, '13-week MA');
    g.append('line').attr('x1',L+12).attr('x2',L+17).attr('y1',39.5).attr('y2',39.5).attr('stroke',C.ma26);
    mono(g, L+22.5, 42.5, '26-week MA');
  }
  if(p.splits){
    g.append('path').attr('d',`M${L+11},49.5L${L+19},49.5L${L+15},55.5Z`).attr('fill',C.split);
    mono(g, L+22.5, 55.5, 'Splits');
  }
  g.append('line').attr('x1',L+12).attr('x2',L+17).attr('y1',225.5).attr('y2',225.5).attr('stroke',C.vol);
  mono(g, L+22.5, 229, 'Volume');

  // header / footer
  mono(g, 3, 12, p.en);
  mono(g, 510, 12, '2021/6/2', 'end');
  mono(g, 3, 305, '(C) 2021 Yahoo Japan Corporation.');
  mono(g, 510, 305, 'https://stocks.finance.yahoo.co.jp', 'end');

  // big title
  g.append('text').attr('x',2).attr('y',32.5).attr('font-family','"Noto Sans CJK JP"').attr('font-size',38)
    .attr('textLength',75).attr('lengthAdjust','spacingAndGlyphs').attr('fill','#000').text(p.code);
  g.append('text').attr('x',101).attr('y',32.5).attr('font-family','"Noto Sans CJK JP"').attr('font-size',38)
    .attr('fill','#000').text(p.name);
}

PANELS.forEach((p,k)=>draw(p, k%5, Math.floor(k/5)));
</script></body></html>
